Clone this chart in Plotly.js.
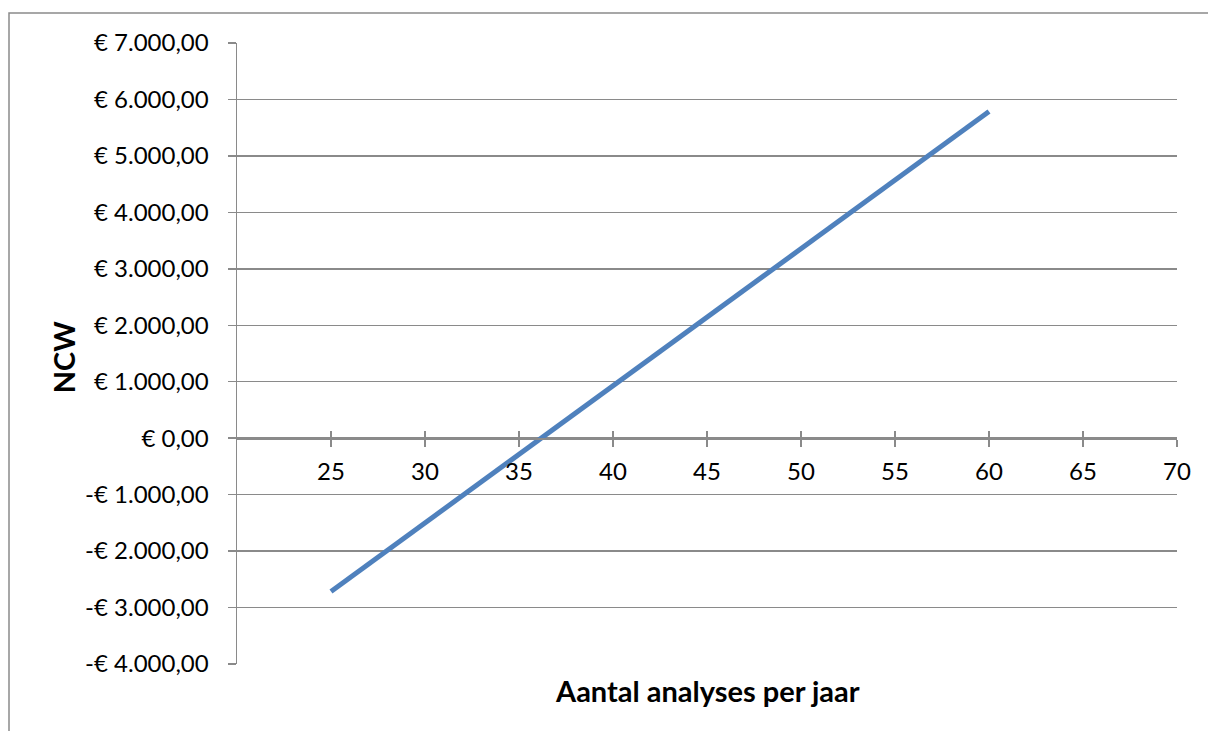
<!DOCTYPE html>
<html>
<head>
<meta charset="utf-8">
<script src="https://cdn.plot.ly/plotly-3.0.1.min.js"></script>
<style>
  html, body { margin: 0; padding: 0; background: #ffffff; }
  #chart { width: 1208px; height: 731px; }
</style>
</head>
<body>
<div id="chart"></div>
<script>
// Number of analyses per year and the resulting net present value (NCW, in euro)
const analysesPerYear = [25, 30, 35, 40, 45, 50, 55, 60];
const ncwValues = [-2715, -1500, -285, 930, 2140, 3355, 4570, 5785];

// Axis ticks
const xTickValues = [25, 30, 35, 40, 45, 50, 55, 60, 65, 70];
const yTickValues = [7000, 6000, 5000, 4000, 3000, 2000, 1000, 0, -1000, -2000, -3000, -4000];
const yTickLabels = ['€ 7.000,00', '€ 6.000,00', '€ 5.000,00', '€ 4.000,00', '€ 3.000,00',
  '€ 2.000,00', '€ 1.000,00', '€ 0,00', '-€ 1.000,00', '-€ 2.000,00', '-€ 3.000,00', '-€ 4.000,00'];

const FONT = 'Lato, "Open Sans", sans-serif';
const GREY = '#8a8a8a';
const Y_MIN = -4000, Y_MAX = 7000;
const zeroPos = (0 - Y_MIN) / (Y_MAX - Y_MIN);

const trace = {
  x: analysesPerYear,
  y: ncwValues,
  type: 'scatter',
  mode: 'lines',
  line: { color: '#4f81bd', width: 5 },
  hoverinfo: 'x+y',
  showlegend: false
};

const xCommon = {
  range: [20, 70],
  tickmode: 'array',
  tickvals: xTickValues,
  showgrid: false,
  zeroline: false,
  showline: true,
  linecolor: GREY,
  linewidth: 1.5,
  tickcolor: GREY,
  tickwidth: 1.5,
  ticklen: 7,
  anchor: 'free',
  position: zeroPos,
  fixedrange: true
};

const layout = {
  width: 1208,
  height: 731,
  margin: { l: 237, r: 31, t: 43, b: 67 },
  paper_bgcolor: '#ffffff',
  plot_bgcolor: '#ffffff',
  font: { family: FONT, color: '#000000', size: 24 },
  xaxis: Object.assign({}, xCommon, {
    ticks: 'outside',
    showticklabels: true,
    tickfont: { family: FONT, size: 24, color: '#000000' },
    ticklabelstandoff: 5
  }),
  xaxis2: Object.assign({}, xCommon, {
    overlaying: 'x',
    matches: 'x',
    ticks: 'inside',
    showticklabels: false
  }),
  yaxis: {
    range: [Y_MIN, Y_MAX],
    tickmode: 'array',
    tickvals: yTickValues,
    ticktext: yTickLabels,
    ticks: 'outside',
    ticklen: 8,
    tickcolor: GREY,
    tickwidth: 1.5,
    showline: true,
    linecolor: GREY,
    linewidth: 1.5,
    showgrid: true,
    gridcolor: GREY,
    gridwidth: 1.5,
    zeroline: false,
    tickfont: { family: FONT, size: 24, color: '#000000' },
    ticklabelstandoff: 14,
    fixedrange: true
  },
  annotations: [{
    text: '<b>Aantal analyses per jaar</b>',
    xref: 'paper', yref: 'paper',
    x: 0.5, y: -0.042,
    xanchor: 'center', yanchor: 'middle',
    showarrow: false,
    font: { family: FONT, size: 29, color: '#000000' }
  }, {
    text: '<b>NCW</b>',
    xref: 'paper', yref: 'paper',
    x: (63 - 237) / 940, y: 0.494,
    xanchor: 'center', yanchor: 'middle',
    textangle: -90,
    showarrow: false,
    font: { family: FONT, size: 29, color: '#000000' }
  }],
  shapes: [{
    type: 'rect',
    xref: 'paper', yref: 'paper',
    x0: (9 - 237) / 940, x1: 1.2,
    y0: -0.3, y1: (664 - 13) / 621,
    line: { color: GREY, width: 1.5 },
    fillcolor: 'rgba(0,0,0,0)',
    layer: 'below'
  }]
};

// invisible companion trace so the overlaying axis with upward ticks is drawn
const tickTrace = {
  x: [20, 70], y: [0, 0], xaxis: 'x2', type: 'scatter', mode: 'lines',
  line: { width: 0 }, hoverinfo: 'skip', showlegend: false
};

Plotly.newPlot('chart', [tickTrace, trace], layout, { displayModeBar: false, staticPlot: true });
</script>
</body>
</html>
